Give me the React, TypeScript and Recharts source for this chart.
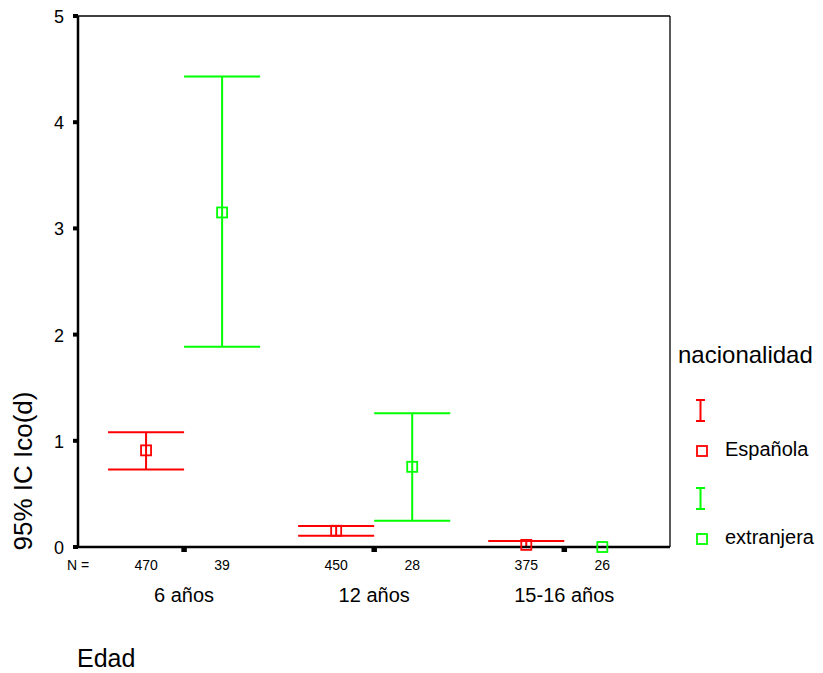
import React from 'react';
import { ComposedChart, XAxis, YAxis, Scatter, ReferenceLine, Label, LabelList } from 'recharts';

// ---- data ----
const groups = ['6 años', '12 años', '15-16 años'];
const nationalities = ['Española', 'extranjera'];
const espMean = [0.91, 0.153, 0.02];
const espLow = [0.73, 0.106, -0.01];
const espHigh = [1.08, 0.198, 0.056];
const extMean = [3.15, 0.755, 0.0];
const extLow = [1.886, 0.248, 0.0];
const extHigh = [4.43, 1.26, 0.0];
const espN = [470, 450, 375];
const extN = [39, 28, 26];
const yTicks = [0, 1, 2, 3, 4, 5];

// ---- style / layout ----
const FONT = '"Liberation Sans", Arial, Helvetica, sans-serif';
const colors = ['#ff0000', '#00ff00'];
const offsets = [-0.2, 0.2];
const capHalf = 0.2;
const X_MIN = -0.558;
const X_MAX = 2.556;

const series = [
  { name: nationalities[0], color: colors[0], mean: espMean, low: espLow, high: espHigh, n: espN, off: offsets[0] },
  { name: nationalities[1], color: colors[1], mean: extMean, low: extLow, high: extHigh, n: extN, off: offsets[1] },
];

const groupTicks = groups.map((_, i) => i);
const nTicks = [X_MIN, ...groups.flatMap((_, i) => [i + offsets[0], i + offsets[1]])];
const nLabels = ['N =', ...groups.flatMap((_, i) => [String(espN[i]), String(extN[i])])];
const nData = nTicks.map((x, i) => ({ x, y: 0, label: nLabels[i] }));

const SquareShape = (color: string) => (props: any) => {
  const { cx, cy } = props;
  return <rect x={cx - 5} y={cy - 5} width={10} height={10} fill="none" stroke={color} strokeWidth={1.8} />;
};

const EmptyShape = () => <g />;

const NLabel = (props: any) => {
  const { viewBox, value } = props;
  const vb = viewBox || props;
  const cx = vb.x + (vb.width || 0) / 2;
  const cy = vb.y + (vb.height || 0) / 2;
  return (
    <text x={cx} y={cy + 23} textAnchor="middle" style={{ fontSize: 14, fontFamily: FONT }} fill="#000">
      {value}
    </text>
  );
};

const GroupTick = (props: any) => {
  const { x, y, index } = props;
  return (
    <text x={x} y={y + 50} textAnchor="middle" style={{ fontSize: 20, fontFamily: FONT }} fill="#000">
      {groups[index]}
    </text>
  );
};

const YTick = (props: any) => {
  const { x, y, payload } = props;
  return (
    <text x={x} y={y + 7} textAnchor="end" style={{ fontSize: 18, fontFamily: FONT }} fill="#000">
      {payload.value}
    </text>
  );
};

const LegendBox = () => (
  <svg width={147} height={230} style={{ position: 'absolute', left: 676, top: 330, display: 'block' }}>
    <text x={2} y={33} style={{ fontSize: 24, fontFamily: FONT }} fill="#000">nacionalidad</text>
    {series.map((s, k) => {
      const top = 70 + k * 88;
      return (
        <g key={s.name}>
          <line x1={24.5} y1={top} x2={24.5} y2={top + 21} stroke={s.color} strokeWidth={2} />
          <line x1={20} y1={top} x2={29} y2={top} stroke={s.color} strokeWidth={2} />
          <line x1={20} y1={top + 21} x2={29} y2={top + 21} stroke={s.color} strokeWidth={2} />
          <rect x={21} y={top + 46} width={10} height={10} fill="none" stroke={s.color} strokeWidth={1.8} />
          <text x={49} y={top + 56} style={{ fontSize: 20, fontFamily: FONT }} fill="#000">{s.name}</text>
        </g>
      );
    })}
  </svg>
);

export default function App() {
  return (
    <div style={{ position: 'absolute', left: 0, top: 0, width: 823, height: 673, background: '#fff' }}>
      <ComposedChart
        width={823}
        height={673}
        margin={{ top: 16, right: 153, bottom: 0, left: 0 }}
        style={{ fontFamily: FONT }}
      >
        <XAxis
          xAxisId="b"
          type="number"
          dataKey="x"
          domain={[X_MIN, X_MAX]}
          allowDataOverflow
          ticks={groupTicks}
          interval={0}
          height={126}
          axisLine={{ stroke: '#000', strokeWidth: 2.5 }}
          tickLine={{ stroke: '#000', strokeWidth: 5.5 }}
          tickSize={5}
          tickMargin={0}
          tick={<GroupTick />}
        >
          <Label
            content={() => (
              <text x={77} y={667} style={{ fontSize: 25, fontFamily: FONT }} fill="#000">Edad</text>
            )}
          />
        </XAxis>
        <YAxis
          type="number"
          domain={[0, 5]}
          ticks={yTicks}
          interval={0}
          width={78}
          axisLine={{ stroke: '#000', strokeWidth: 2.5 }}
          tickLine={{ stroke: '#000', strokeWidth: 4 }}
          tickSize={5}
          tickMargin={9}
          tick={<YTick />}
        >
          <Label
            content={() => (
              <text
                x={0}
                y={0}
                transform="translate(32,471) rotate(-90)"
                textAnchor="middle"
                style={{ fontSize: 26, fontFamily: FONT }}
                fill="#000"
              >
                95% IC Ico(d)
              </text>
            )}
          />
        </YAxis>

        {/* plot frame: top and right */}
        <ReferenceLine xAxisId="b" y={5} stroke="#000" strokeWidth={1.3} ifOverflow="visible" />
        <ReferenceLine xAxisId="b" x={X_MAX} stroke="#000" strokeWidth={1.3} ifOverflow="visible" />

        {series.map((s) =>
          groups.map((g, i) => {
            const xc = i + s.off;
            return (
              <React.Fragment key={s.name + g}>
                <ReferenceLine
                  xAxisId="b"
                  segment={[{ x: xc, y: s.low[i] }, { x: xc, y: s.high[i] }]}
                  stroke={s.color}
                  strokeWidth={2}
                  ifOverflow="hidden"
                />
                <ReferenceLine
                  xAxisId="b"
                  segment={[{ x: xc - capHalf, y: s.high[i] }, { x: xc + capHalf, y: s.high[i] }]}
                  stroke={s.color}
                  strokeWidth={2}
                  ifOverflow="hidden"
                />
                <ReferenceLine
                  xAxisId="b"
                  segment={[{ x: xc - capHalf, y: s.low[i] }, { x: xc + capHalf, y: s.low[i] }]}
                  stroke={s.color}
                  strokeWidth={2}
                  ifOverflow="hidden"
                />
              </React.Fragment>
            );
          })
        )}

        {series.map((s) => (
          <Scatter
            key={s.name}
            name={s.name}
            xAxisId="b"
            data={groups.map((_, i) => ({ x: i + s.off, y: s.mean[i] }))}
            dataKey="y"
            shape={SquareShape(s.color)}
            isAnimationActive={false}
          />
        ))}

        <Scatter
          name="N"
          xAxisId="b"
          data={nData}
          dataKey="y"
          shape={EmptyShape}
          isAnimationActive={false}
        >
          <LabelList dataKey="label" content={<NLabel />} />
        </Scatter>
      </ComposedChart>
      <LegendBox />
    </div>
  );
}
